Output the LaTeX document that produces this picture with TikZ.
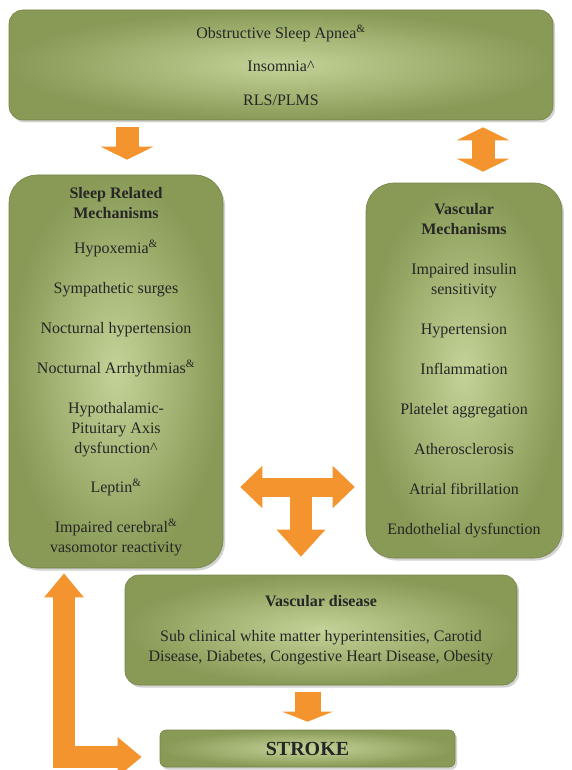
\documentclass[tikz,border=0pt]{standalone}
\usepackage{fontspec}
\setmainfont{Liberation Serif}
\usepackage{xcolor}
\usepackage{tikz}
\usetikzlibrary{arrows.meta,shadows,calc}

\definecolor{boxout}{RGB}{136,154,86}
\definecolor{boxin}{RGB}{196,211,152}
\definecolor{boxedge}{RGB}{116,132,70}
\definecolor{arrowfill}{RGB}{244,148,46}

\begin{document}
\begin{tikzpicture}[x=1pt, y=-1pt,
    box/.style={rectangle, rounded corners=14pt, draw=boxedge, line width=0.6pt,
        inner color=boxin, outer color=boxout, align=center, inner sep=0pt,
        drop shadow={shadow xshift=2pt, shadow yshift=-2.5pt, opacity=0.35},
        font=\fontsize{16}{20}\selectfont, text=black!85},
    bigarrow/.style={draw=arrowfill, line width=23pt, line join=miter},
    downtip/.style={-{Triangle[width=52pt, length=13pt]}}]

    \useasboundingbox (0,0) rectangle (571,770);

    % Sleep disorders
    \node[box, minimum width=544pt, minimum height=110pt] (top) at (281,65)
        {Obstructive Sleep Apnea\textsuperscript{\&}\\[13.5pt]
         Insomnia\textasciicircum\\[13.5pt]
         RLS/PLMS};

    % Mechanisms
    \node[box, rounded corners=28pt, minimum width=214pt, minimum height=393pt] (sleep) at (116,371.5)
        {\textbf{Sleep Related}\\\textbf{Mechanisms}\\[15pt]
         Hypoxemia\textsuperscript{\&}\\[20pt]
         Sympathetic surges\\[20pt]
         Nocturnal hypertension\\[20pt]
         Nocturnal Arrhythmias\textsuperscript{\&}\\[20pt]
         Hypothalamic-\\Pituitary Axis\\dysfunction\textasciicircum\\[19pt]
         Leptin\textsuperscript{\&}\\[20pt]
         Impaired cerebral\textsuperscript{\&}\\vasomotor reactivity};

    \node[box, rounded corners=28pt, minimum width=196pt, minimum height=375pt] (vasc) at (464,370.5)
        {\textbf{Vascular}\\\textbf{Mechanisms}\\[20pt]
         Impaired insulin\\sensitivity\\[20pt]
         Hypertension\\[20pt]
         Inflammation\\[20pt]
         Platelet aggregation\\[20pt]
         Atherosclerosis\\[20pt]
         Atrial fibrillation\\[20pt]
         Endothelial dysfunction};

    % Disease and outcome
    \node[box, minimum width=392pt, minimum height=110pt] (disease) at (321,630)
        {\textbf{Vascular disease}\\[15pt]
         Sub clinical white matter hyperintensities, Carotid\\
         Disease, Diabetes, Congestive Heart Disease, Obesity};

    \node[box, rounded corners=6pt, minimum width=295pt, minimum height=37pt,
        font=\fontsize{20}{24}\selectfont\bfseries] (stroke) at (307.5,748.5) {STROKE};

    % Arrows
    \coordinate (a1) at (127,0);
    \coordinate (a2) at (483,0);
    \coordinate (tj) at (301,487);
    \coordinate (lc) at (64,757);

    \draw[bigarrow, downtip, shorten <=7pt, shorten >=15pt] (a1 |- top.south) -- (a1 |- sleep.north);
    \draw[bigarrow, {Triangle[width=52pt, length=13pt]}-{Triangle[width=52pt, length=13pt]},
        shorten <=7pt, shorten >=11pt] (a2 |- top.south) -- (a2 |- vasc.north);

    \draw[bigarrow, line width=19pt, {Triangle[width=41pt, length=22pt]}-{Triangle[width=41pt, length=22pt]},
        shorten <=17pt, shorten >=11pt] (tj -| sleep.east) -- (tj -| vasc.west);
    \draw[bigarrow, line width=22pt, -{Triangle[width=47pt, length=27pt]},
        shorten >=18pt] (tj) -- (tj |- disease.north);

    \draw[bigarrow, line width=26pt, -{Triangle[width=50pt, length=10pt]},
        shorten <=7pt, shorten >=8pt] (stroke.north |- disease.south) -- (stroke.north);

    \draw[bigarrow, line width=22pt, {Triangle[width=38pt, length=24pt]}-{Triangle[width=38pt, length=24pt]},
        shorten <=5pt, shorten >=18pt] (lc |- sleep.south) -- (lc) -- (lc -| stroke.west);

\end{tikzpicture}
\end{document}
